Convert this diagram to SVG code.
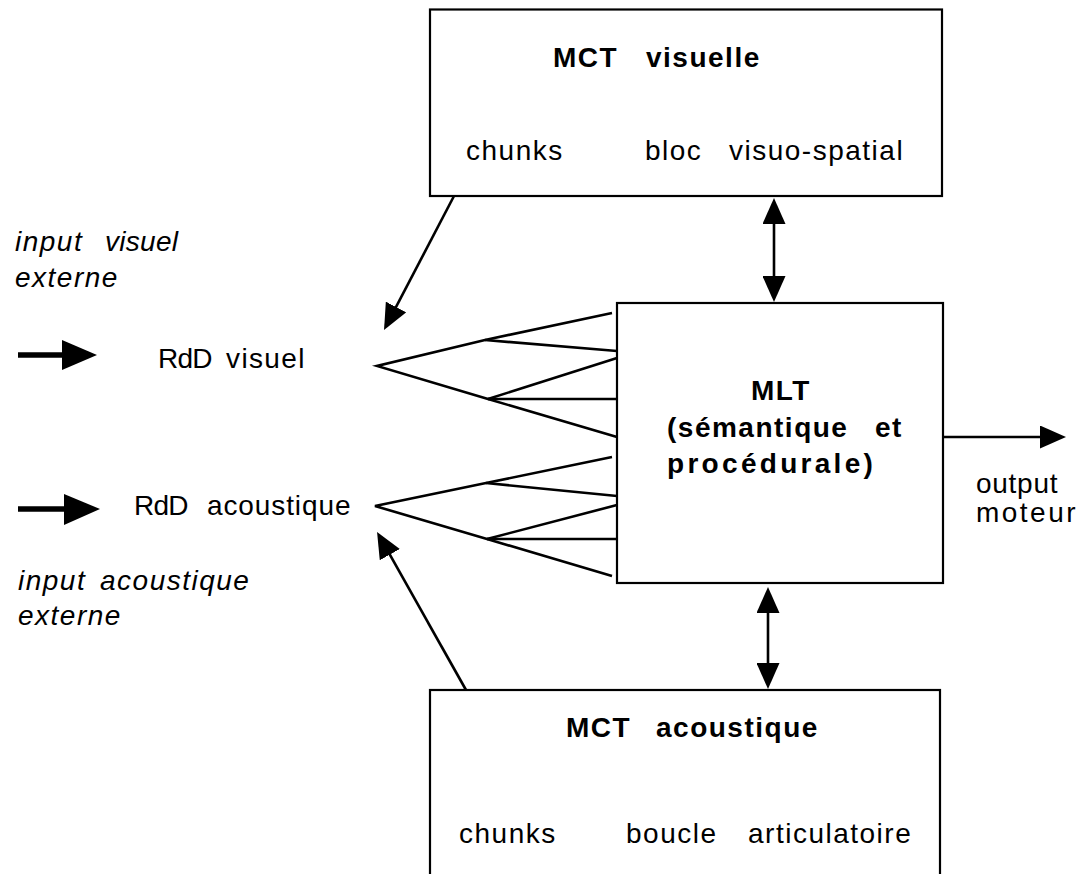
<svg xmlns="http://www.w3.org/2000/svg" width="1085" height="874" viewBox="0 0 1085 874">
<style>
.box{fill:#fff;stroke:#000;stroke-width:2.2}
.t{font-family:"Liberation Sans",Arial,Helvetica,sans-serif;font-size:28px;letter-spacing:1.5px;fill:#000}
.b{font-weight:bold}
.i{font-style:italic}
.ln{fill:none;stroke:#000;stroke-width:2.6;stroke-linecap:butt}
.thick{fill:none;stroke:#000;stroke-width:5.5}
</style>
<defs>
<marker id="ah" viewBox="0 0 26 23" refX="20" refY="11.5" markerWidth="26" markerHeight="23" markerUnits="userSpaceOnUse" orient="auto-start-reverse">
<path d="M0,0 L26,11.5 L0,23 z" fill="#000"/>
</marker>
</defs>
<rect width="1085" height="874" fill="#fff"/>

<g id="mct-visuelle">
<rect class="box" x="430" y="9.5" width="512" height="186.5"/>
<text class="t b" y="67"><tspan x="553">MCT</tspan><tspan x="646">visuelle</tspan></text>
<text class="t" y="160"><tspan x="466">chunks</tspan><tspan x="645">bloc</tspan><tspan x="729">visuo-spatial</tspan></text>
</g>

<g id="mlt">
<rect class="box" x="617" y="303" width="326" height="280"/>
<text class="t b" x="751" y="400">MLT</text>
<text class="t b" y="437"><tspan x="667">(sémantique</tspan><tspan x="875">et</tspan></text>
<text class="t b" x="667" y="473" style="letter-spacing:3.3px">procédurale)</text>
</g>

<g id="mct-acoustique">
<rect class="box" x="430" y="690" width="510" height="200"/>
<text class="t b" y="737"><tspan x="566">MCT</tspan><tspan x="656">acoustique</tspan></text>
<text class="t" y="843"><tspan x="459">chunks</tspan><tspan x="626">boucle</tspan><tspan x="748">articulatoire</tspan></text>
</g>

<g id="rdd-visuel">
<text class="t" y="368"><tspan x="158" textLength="56">RdD</tspan><tspan x="226" textLength="80">visuel</tspan></text>
</g>

<g id="rdd-acoustique">
<text class="t" y="515"><tspan x="134" textLength="56">RdD</tspan><tspan x="207" textLength="145">acoustique</tspan></text>
</g>

<g id="input-visuel">
<text class="t i" y="251"><tspan x="15">input</tspan><tspan x="105" style="letter-spacing:0.3px">visuel</tspan></text>
<text class="t i" x="15" y="287">externe</text>
</g>

<g id="input-acoustique">
<text class="t i" y="590"><tspan x="18">input</tspan><tspan x="100">acoustique</tspan></text>
<text class="t i" x="18" y="625">externe</text>
</g>

<g id="output-moteur">
<text class="t" x="976" y="493" textLength="83">output</text>
<text class="t" x="976" y="522" textLength="101">moteur</text>
</g>

<g id="connectors">
<!-- external input arrows -->
<line class="thick" x1="18" y1="355" x2="64" y2="355"/>
<polygon points="62,340 97,355 62,370" fill="#000"/>
<line class="thick" x1="18" y1="509" x2="66" y2="509"/>
<polygon points="64,494 100,509 64,525" fill="#000"/>

<!-- visual fan -->
<polyline class="ln" points="612,313 485,340 377,366 488,399 617,437"/>
<line class="ln" x1="485" y1="340" x2="617" y2="351"/>
<line class="ln" x1="488" y1="399" x2="617" y2="358"/>
<line class="ln" x1="488" y1="399" x2="617" y2="399"/>

<!-- acoustic fan -->
<polyline class="ln" points="612,457 486,483 375,506 487,539 612,576"/>
<line class="ln" x1="486" y1="483" x2="617" y2="496"/>
<line class="ln" x1="487" y1="539" x2="617" y2="505"/>
<line class="ln" x1="487" y1="539" x2="617" y2="539"/>

<!-- MCT visuelle to RdD visuel -->
<line class="ln" x1="454" y1="196" x2="386.8" y2="324.7" marker-end="url(#ah)"/>
<!-- MCT acoustique to RdD acoustique -->
<line class="ln" x1="466" y1="690" x2="380" y2="537.2" marker-end="url(#ah)"/>
<!-- MCT visuelle <-> MLT -->
<line class="ln" x1="774" y1="204" x2="774" y2="296" marker-start="url(#ah)" marker-end="url(#ah)"/>
<!-- MLT <-> MCT acoustique -->
<line class="ln" x1="768" y1="593" x2="768" y2="683" marker-start="url(#ah)" marker-end="url(#ah)"/>
<!-- output -->
<line class="ln" x1="943" y1="437" x2="1060" y2="437" marker-end="url(#ah)"/>
</g>
</svg>
